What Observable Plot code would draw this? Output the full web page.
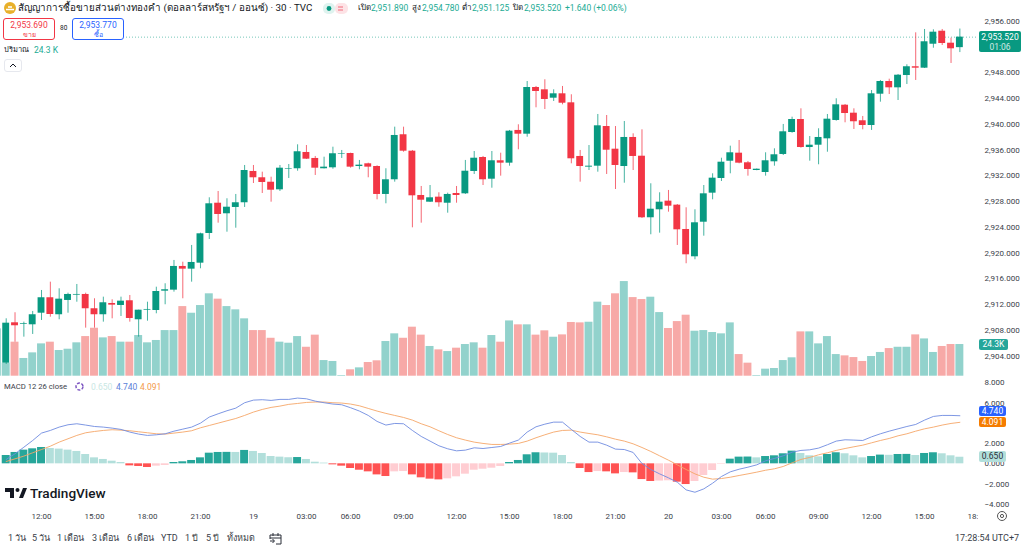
<!DOCTYPE html>
<html><head><meta charset="utf-8">
<script src="https://cdn.jsdelivr.net/npm/d3@7"></script>
<script src="https://cdn.jsdelivr.net/npm/@observablehq/plot@0.6"></script>
<style>
html,body{margin:0;padding:0;background:#fff}
#wrap{position:relative;width:1024px;height:548px;overflow:hidden;background:#fff;font-family:Roboto,"Noto Sans","DejaVu Sans",sans-serif;color:#131722}
#wrap svg.plot,#wrap>svg{position:absolute;left:0;max-width:none}
.t{position:absolute;white-space:nowrap;line-height:1}
.box{position:absolute;box-sizing:border-box;background:#fff;border-radius:3px;text-align:center}
.tag{position:absolute;box-sizing:border-box;border-radius:2px;text-align:center;white-space:nowrap}
</style></head><body><div id="wrap"></div>
<script>
const high=[2909.78,2910.72,2909.26,2910.92,2914.18,2915.47,2914.44,2913.76,2915.11,2913.76,
2912.89,2913.14,2912.73,2913.14,2913.40,2911.12,2912.36,2914.69,2915.22,2918.84,
2918.57,2921.17,2923.08,2928.57,2929.55,2928.42,2929.09,2933.59,2933.59,2932.55,
2931.77,2933.59,2933.74,2936.80,2936.69,2934.99,2934.88,2936.43,2935.92,2935.50,
2934.37,2933.95,2933.54,2933.08,2939.54,2939.54,2935.92,2930.33,2930.48,2929.35,
2929.29,2930.33,2934.37,2935.76,2934.99,2935.76,2935.50,2939.03,2939.91,2946.63,
2945.86,2946.90,2945.34,2945.86,2944.57,2935.92,2936.69,2941.51,2941.35,2939.64,
2940.42,2938.51,2939.13,2930.75,2929.35,2929.71,2927.53,2927.02,2926.71,2930.48,
2932.30,2934.72,2936.59,2937.47,2934.21,2933.05,2935.56,2936.18,2939.96,2941.09,
2942.39,2938.09,2939.29,2941.51,2943.95,2943.06,2942.39,2941.20,2945.23,2946.79,
2946.99,2947.72,2949.23,2954.19,2954.71,2954.66,2954.71,2953.36,2954.78];
const open=[2902.89,2909.16,2908.90,2908.85,2910.65,2913.05,2910.41,2912.63,2913.45,2913.56,
2911.34,2910.41,2912.16,2911.85,2912.58,2909.63,2911.12,2911.07,2914.07,2914.23,
2917.91,2917.49,2918.42,2923.03,2927.73,2926.09,2927.07,2927.80,2932.66,2931.68,
2930.99,2929.81,2933.03,2933.08,2935.61,2934.68,2933.08,2933.23,2935.36,2935.45,
2933.43,2933.85,2933.43,2929.09,2931.37,2938.36,2935.81,2928.93,2927.89,2928.67,
2927.73,2929.24,2929.19,2932.66,2934.83,2931.46,2934.32,2933.95,2939.03,2938.45,
2945.70,2945.34,2944.04,2944.72,2943.32,2934.99,2933.33,2933.48,2939.64,2936.12,
2933.43,2937.94,2935.03,2925.47,2926.71,2928.05,2927.43,2923.65,2919.41,2924.78,
2929.29,2931.57,2934.25,2935.50,2934.01,2932.81,2932.50,2934.16,2935.30,2938.71,
2940.73,2936.38,2936.74,2937.73,2940.58,2942.95,2941.71,2940.53,2939.80,2944.66,
2946.63,2945.65,2947.56,2948.92,2948.70,2952.42,2954.44,2952.58,2951.89];
const close=[2909.10,2908.70,2909.01,2910.41,2913.05,2910.45,2912.83,2913.56,2913.56,2911.34,
2910.41,2912.27,2911.90,2912.52,2909.83,2911.12,2911.23,2914.02,2914.29,2917.91,
2917.49,2918.53,2922.98,2927.64,2925.98,2927.11,2927.80,2932.81,2931.68,2930.95,
2929.75,2933.17,2933.12,2935.72,2934.57,2933.17,2933.33,2935.41,2935.45,2933.33,
2933.64,2933.33,2929.09,2931.37,2938.25,2935.81,2928.88,2928.20,2928.57,2927.80,
2929.09,2928.93,2932.70,2934.72,2931.37,2934.32,2933.95,2938.92,2938.45,2945.70,
2945.08,2943.84,2944.72,2943.26,2934.63,2933.43,2933.48,2939.75,2935.96,2933.59,
2937.94,2934.99,2925.47,2926.80,2927.89,2927.27,2923.60,2919.72,2924.69,2929.19,
2931.62,2934.10,2935.56,2933.95,2932.97,2933.01,2934.32,2935.25,2938.82,2940.73,
2936.38,2936.74,2937.94,2940.78,2943.01,2941.66,2940.38,2939.80,2944.72,2946.63,
2945.65,2947.61,2948.92,2948.70,2952.80,2954.29,2952.53,2951.71,2953.52];
const low=[2902.69,2906.15,2906.93,2907.35,2909.52,2910.03,2909.63,2910.65,2912.36,2908.33,
2908.33,2909.26,2909.78,2910.14,2909.26,2906.93,2909.41,2910.56,2911.96,2913.92,
2912.89,2915.47,2917.55,2922.10,2924.63,2923.23,2923.85,2927.07,2930.79,2929.24,
2927.89,2929.55,2931.57,2932.70,2934.52,2932.04,2933.05,2933.01,2934.68,2933.17,
2932.92,2931.68,2928.26,2927.64,2931.00,2935.65,2923.91,2924.63,2927.84,2927.11,
2926.18,2927.73,2929.09,2932.19,2930.48,2930.06,2931.93,2933.48,2936.03,2937.98,
2942.55,2942.28,2943.53,2943.01,2933.85,2931.00,2932.81,2932.55,2932.19,2929.86,
2930.84,2932.81,2925.36,2922.83,2923.08,2926.34,2921.17,2918.33,2918.95,2922.61,
2928.26,2931.10,2932.30,2933.85,2931.93,2932.77,2931.93,2933.48,2935.14,2938.60,
2936.28,2934.26,2933.70,2935.65,2940.47,2940.22,2939.18,2939.13,2939.03,2943.42,
2944.61,2943.68,2946.17,2946.79,2948.65,2951.80,2952.22,2949.43,2951.125];
const volume=[10.0,26.1,13.6,17.9,24.8,26.1,19.7,20.7,25.6,30.4,36.8,29.4,30.4,26.1,26.1,31.2,25.6,27.4,35.0,35.0,
53.4,48.3,54.2,63.2,59.1,53.4,50.9,44.0,35.0,35.0,29.1,26.1,25.3,30.4,22.2,31.5,12.0,11.3,0.5,
4.9,6.4,10.5,11.8,26.6,32.5,29.1,37.6,31.5,22.8,20.2,18.9,21.5,24.3,25.6,21.5,31.2,26.1,42.4,39.4,39.4,31.5,34.8,29.9,31.7,41.2,40.9,41.4,56.8,54.2,63.2,72.6,60.3,58.8,60.6,48.8,36.6,41.9,
46.8,34.5,35.0,33.5,32.5,40.9,16.6,10.0,0.5,5.4,5.9,12.0,14.1,34.0,34.0,24.8,30.4,16.6,15.6,14.3,11.3,15.1,18.2,21.2,22.2,22.2,31.7,28.6,18.2,22.8,24.3,24.3];
const priorBarVolume=36.3;
const hist=[.82,1.12,1.35,1.48,1.61,1.51,1.45,1.35,1.22,.92,.59,.43,.26,.13,-.20,-.26,-.36,-.23,-.16,.13,.20,.33,.59,1.05,1.12,1.13,1.12,1.32,1.22,1.02,.72,.66,.60,.62,.43,.16,.07,-.10,
-.23,-.46,-.63,-.79,-1.09,-1.25,-.79,-.76,-1.09,-1.38,-1.51,-1.58,-1.48,-1.28,-1.02,-.63,-.53,-.43,-.26,.13,.33,.89,1.09,1.07,1.05,.82,.13,-.46,-.86,-.76,-.79,-.99,-.86,-.89,-1.55,-1.74,-1.70,-1.67,-1.81,
-2.04,-1.74,-1.15,-.66,-.05,.46,.66,.67,.59,.72,.79,.99,1.25,1.02,.79,.69,.92,1.09,.99,.79,.59,.72,.86,.84,.92,.93,.82,1.02,1.09,.99,.79,.65];
const macd=[.43,.99,1.64,2.30,3.03,3.29,3.62,3.85,3.95,3.82,3.68,3.62,3.52,3.39,3.13,2.93,2.80,2.86,2.96,3.22,3.42,3.62,4.01,4.61,4.93,5.23,5.49,6.02,6.28,6.32,6.25,6.35,6.35,6.48,6.41,6.18,6.02,5.89,5.82,
5.53,5.20,4.77,4.18,3.82,3.98,3.95,3.29,2.70,2.24,1.78,1.48,1.28,1.35,1.58,1.51,1.61,1.71,2.04,2.34,3.13,3.65,3.91,4.11,4.11,3.39,2.70,2.14,2.14,1.84,1.45,1.41,1.12,.03,-.56,-.99,-1.38,-1.81,
-2.57,-2.80,-2.47,-1.91,-1.25,-.79,-.53,-.33,-.10,.30,.53,.79,1.15,1.32,1.38,1.55,1.88,2.24,2.37,2.34,2.30,2.66,2.96,3.22,3.45,3.68,3.88,4.31,4.67,4.77,4.77,4.74];
const signal=[.23,.49,.76,1.09,1.41,1.74,2.14,2.47,2.80,3.06,3.19,3.29,3.36,3.32,3.26,3.16,3.06,2.96,2.93,3.03,3.13,3.26,3.55,3.78,4.01,4.24,4.47,4.77,5.10,5.36,5.56,5.69,5.86,5.95,6.05,6.09,6.09,6.02,5.99,
5.89,5.72,5.46,5.20,4.97,4.77,4.57,4.31,3.95,3.65,3.26,2.89,2.57,2.34,2.14,2.01,1.91,1.91,1.94,2.01,2.24,2.57,2.86,3.13,3.29,3.32,3.13,2.99,2.86,2.66,2.43,2.24,1.97,1.61,1.22,.79,.36,-.10,
-.56,-.99,-1.32,-1.51,-1.45,-1.32,-1.15,-.99,-.82,-.63,-.49,-.26,.10,.43,.63,.89,1.09,1.32,1.51,1.68,1.84,2.07,2.30,2.50,2.76,2.96,3.22,3.45,3.62,3.82,3.98,4.091];
const timeTickBars=[4,10,16,22,28,34,39,45,51,57,63,69,75,81,86,92,98,104,110];
const timeTickLabels=["12:00","15:00","18:00","21:00","19","03:00","06:00","09:00","12:00","15:00","18:00","21:00","20","03:00","06:00","09:00","12:00","15:00","18:00"];
const priceTicks=[2904,2908,2912,2916,2920,2924,2928,2932,2936,2940,2944,2948,2956];
const macdTicks=[-4,-2,0,2,6,8];
const ranges=["1 วัน","5 วัน","1 เดือน","3 เดือน","6 เดือน","YTD","1 ปี","5 ปี","ทั้งหมด"];
const rangeX=[8,32,57,92,127,161,185,206,227];

const UP="#089981",DOWN="#f23645",AXIS="#3a3e49",FONT='Roboto,"Noto Sans","DejaVu Sans",sans-serif';
const wrap=document.getElementById("wrap");
const xDomain=[-0.6455,110.11];
const bars=high.map((h,i)=>({i,high:h,low:low[i],open:open[i],close:close[i],volume:volume[i],hist:hist[i],macd:macd[i],signal:signal[i],up:close[i]>=open[i]}));
const base={width:1024,marginLeft:0,marginRight:46,marginTop:0,marginBottom:0,style:{background:"transparent",fontFamily:FONT},color:{type:"identity"}};
function place(svg,top){svg.style.top=top+"px";wrap.appendChild(svg);return svg;}
// volume
const volChart=Plot.plot({...base,height:378,x:{domain:xDomain,range:[0,978],axis:null},y:{domain:[0,288.2],range:[375.7,0],axis:null},marks:[
  Plot.rectY([priorBarVolume],{x1:()=>-1.45,x2:()=>-.55,y1:0,y2:d=>d,fill:"#92d2cc",clip:true}),
  Plot.rectY(bars,{x1:d=>d.i-.45,x2:d=>d.i+.45,y1:0,y2:"volume",fill:d=>d.up?"#92d2cc":"#f7a9a7"})
]});
place(volChart,0);
// price
const priceChart=Plot.plot({...base,height:378,x:{domain:xDomain,range:[0,978],axis:null},y:{domain:[2900.51,2959.21],range:[378,0]},marks:[
  Plot.axisY({anchor:"right",ticks:priceTicks,tickFormat:d3.format(",.3f"),tickSize:0,tickPadding:6,fontSize:8,fill:AXIS,label:null}),
  Plot.ruleY([close[close.length-1]],{stroke:UP,strokeDasharray:"1,2",strokeWidth:1,strokeOpacity:.55}),
  Plot.ruleX(bars,{x:"i",y1:"low",y2:"high",stroke:d=>d.up?UP:DOWN,strokeWidth:1,strokeOpacity:.75}),
  Plot.rectY(bars,{x1:d=>d.i-.39,x2:d=>d.i+.39,y1:"open",y2:"close",fill:d=>d.up?UP:DOWN})
]});
place(priceChart,0);
// macd
const histColor=(d,i)=>{const p=i?hist[i-1]:0;return d.hist>=0?(d.hist>p?"#26a69a":"#b2dfdb"):(d.hist<p?"#ff5252":"#ffcdd2");};
const macdChart=Plot.plot({...base,height:132,x:{domain:xDomain,range:[0,978],axis:null},y:{domain:[-4.6,8.41],range:[132,0]},marks:[
  Plot.axisY({anchor:"right",ticks:macdTicks,tickFormat:d3.format(",.3f"),tickSize:0,tickPadding:6,fontSize:8,fill:AXIS,label:null}),
  Plot.rectY(bars,{x1:d=>d.i-.45,x2:d=>d.i+.45,y1:0,y2:"hist",fill:histColor}),
  Plot.line(bars,{x:"i",y:"signal",stroke:"#f5a668",strokeWidth:.9}),
  Plot.line(bars,{x:"i",y:"macd",stroke:"#6f8be0",strokeWidth:.9})
]});
place(macdChart,378);
// time axis
const timeAxis=Plot.plot({width:978,height:14,marginLeft:0,marginRight:0,marginTop:0,marginBottom:0,style:{background:"transparent",fontFamily:FONT},x:{domain:xDomain,range:[0,978],axis:null},y:{axis:null},marks:[
  Plot.text(timeTickBars,{x:d=>d,text:(d,i)=>timeTickLabels[i],frameAnchor:"middle",fontSize:8,fill:AXIS})
]});
place(timeAxis,509);

function text(s,x,y,size,color,extra){const e=document.createElement("div");e.className="t";e.textContent=s;e.style.cssText=`left:${x}px;top:${y}px;font-size:${size}px;color:${color};${extra||""}`;wrap.appendChild(e);return e;}
function tag(s,top,h,bg,fg,w){const e=document.createElement("div");e.className="tag";e.style.cssText=`left:979px;top:${top}px;width:${w}px;height:${h}px;background:${bg};color:${fg};font-size:8.5px;line-height:${h}px;`;e.textContent=s;wrap.appendChild(e);return e;}
function html(s){const e=document.createElement("div");e.innerHTML=s;const c=e.firstElementChild;wrap.appendChild(c);return c;}

// header
html('<div style="position:absolute;left:0;top:17px;width:124px;height:24px;background:#fff"></div>');
html('<svg width="14" height="14" style="left:3px;top:1px"><circle cx="7" cy="7" r="6" fill="#e8b02a"/><path d="M3 8.5 h8 M5 6 h4" stroke="#fff" stroke-width="1.6"/></svg>');
text("สัญญาการซื้อขายส่วนต่างทองคำ (ดอลลาร์สหรัฐฯ / ออนซ์) · 30 · TVC",18,3,9.8,"#131722");
html('<svg width="26" height="11" style="left:323px;top:3px"><rect x="0" y="0" width="12" height="11" rx="5" fill="#dff3ef"/><rect x="12" y="0" width="13" height="11" rx="5" fill="#fde3e6"/><circle cx="6" cy="5.5" r="2.4" fill="#089981"/><path d="M15 4h5M15 7h5" stroke="#f06a7a" stroke-width="1"/></svg>');
const o=[["เปิด",358,"2,951.890",371],["สูง",412,"2,954.780",422],["ต่ำ",462,"2,951.125",472],["ปิด",513,"2,953.520",524]];
o.forEach(([a,x,b,x2])=>{text(a,x,4,8,"#131722");text(b,x2,4,8.5,"#22ab94");});
text("+1.640 (+0.06%)",565,4,8.5,"#22ab94");
function pbox(x,w,c,a,b){html(`<div class="box" style="left:${x}px;top:18px;width:${w}px;height:22px;border:1px solid ${c};color:${c}"><div style="font-size:8.5px;line-height:11px;margin-top:1px">${a}</div><div style="font-size:7px;line-height:8px">${b}</div></div>`);}
pbox(3,52,"#f23645","2,953.690","ขาย");
pbox(72,52,"#2962ff","2,953.770","ซื้อ");
text("80",60,25,6.5,"#131722");
text("ปริมาณ",4,46,7.5,"#131722");
text("24.3 K",34,46,8.5,"#22ab94");
html('<div class="box" style="left:4px;top:59px;width:18px;height:13px;border:1px solid #e6e8ee;font-size:0"><svg width="8" height="5" style="position:absolute;left:4px;top:3px"><path d="M1 4L4 1L7 4" fill="none" stroke="#131722" stroke-width="1"/></svg></div>');

// tags via scales
const py=priceChart.scale("y").apply(close[close.length-1]);
html(`<div class="tag" style="left:979px;top:${py-6}px;width:42px;height:21px;background:#089981;color:#fff;font-size:8.5px;line-height:10px;padding-top:1px">2,953.520<br><span style="opacity:.8">01:06</span></div>`);
const vy=volChart.scale("y").apply(volume[volume.length-1]);
tag("24.3K",vy-5,11,"#26a69a","#fff",29);
const my=macdChart.scale("y"),last=bars[bars.length-1];
const sigTop=378+my.apply(last.signal)-5;
tag("4.740",sigTop-11,10.5,"#2962ff","#fff",27);
tag("4.091",sigTop,10.5,"#f57c00","#fff",27);
tag("0.650",378+my.apply(last.hist)-5.5,10.5,"#b2dfdb","#2a2e39",27);

// macd legend
text("MACD 12 26 close",4,383,7.7,"#3a3e49");
html('<svg width="11" height="11" style="left:74px;top:381px"><circle cx="5.5" cy="5.5" r="3.5" fill="none" stroke="#7e57c2" stroke-width="1.5" stroke-dasharray="3 1.5"/></svg>');
text("0.650",91,382.5,8.5,"#c9e7e3");
text("4.740",116,382.5,8.5,"#5b7fd9");
text("4.091",140,382.5,8.5,"#f39a4a");

// logo
html('<svg width="22" height="12" style="left:5px;top:488px"><path d="M0 0h9v10h-4v-6h-5z M14 10l4-10h4l-4 10z" fill="#131722"/><circle cx="12.5" cy="2" r="2" fill="#131722"/></svg>');
text("TradingView",30,487,13.6,"#131722","font-weight:500;");

// settings icon
html('<svg width="12" height="12" style="left:996px;top:510px"><circle cx="6" cy="6" r="4.5" fill="none" stroke="#555" stroke-width="1"/><circle cx="6" cy="6" r="1.6" fill="none" stroke="#555" stroke-width="1"/></svg>');

// bottom bar
ranges.forEach((r,i)=>text(r,rangeX[i],534,9,"#3a3e49"));
html('<svg width="14" height="13" style="left:269px;top:532px"><path d="M1 3h11v9h-5M1 3v4M1 6h11M4 1v3M9 1v3M1 9h4M3.5 7l2 2-2 2" fill="none" stroke="#2a2e39" stroke-width="1"/></svg>');
text("17:28:54 UTC+7",955,534,9,"#3a3e49");
</script></body></html>
